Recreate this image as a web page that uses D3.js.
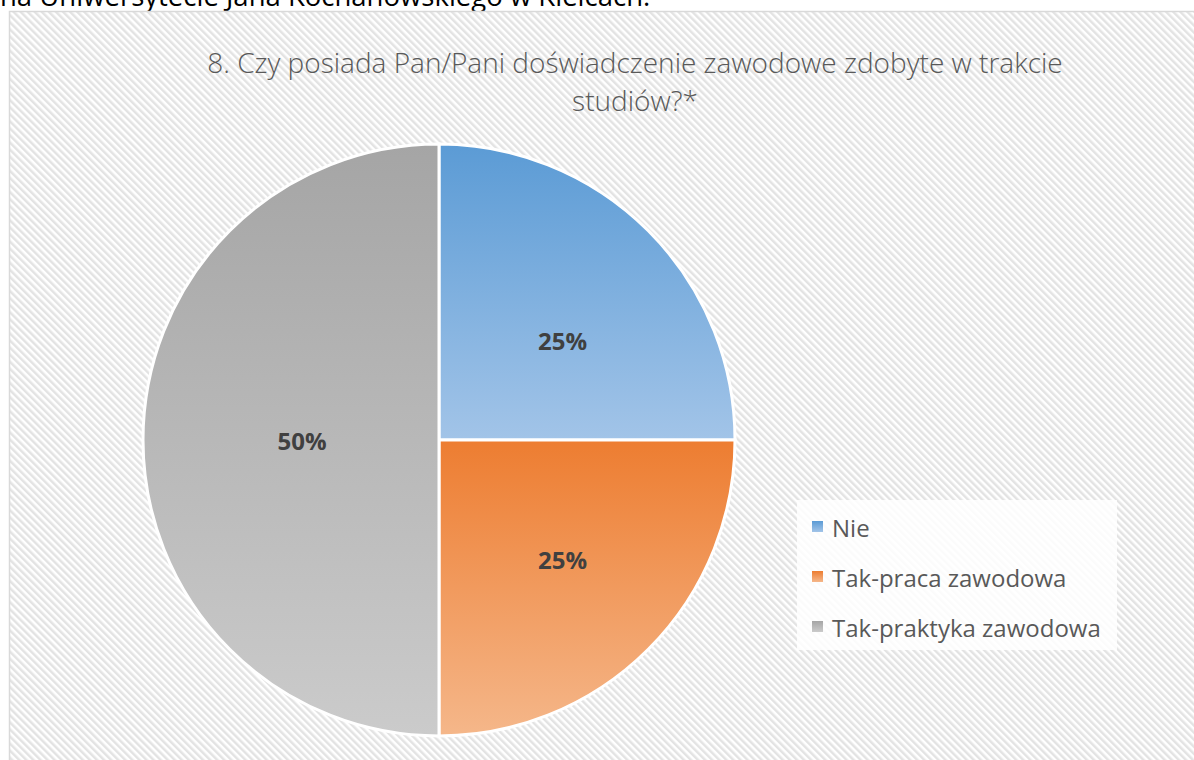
<!DOCTYPE html>
<html><head><meta charset="utf-8">
<script src="https://cdn.jsdelivr.net/npm/d3@7"></script>
<style>body{margin:0;background:#fff;overflow:hidden}svg{display:block}</style>
</head><body>
<script>
const categories = ["Nie", "Tak-praca zawodowa", "Tak-praktyka zawodowa"];
const values = [25, 25, 50];
const labels = ["25%", "25%", "50%"];
const titleLines = ["8. Czy posiada Pan/Pani doświadczenie zawodowe zdobyte w trakcie", "studiów?*"];
const colorsTop = ["#5b9bd5", "#ed7d31", "#a5a5a5"];
const colorsBottom = ["#a2c4e8", "#f5b78a", "#cbcbcb"];

const W = 1194, H = 760;
const svg = d3.select("body").append("svg").attr("width", W).attr("height", H);
const defs = svg.append("defs");

const pat = defs.append("pattern").attr("id", "stripes").attr("patternUnits", "userSpaceOnUse")
  .attr("width", 5).attr("height", 5).attr("patternTransform", "rotate(-45)");
pat.append("rect").attr("width", 5).attr("height", 5).attr("fill", "#ffffff");
pat.append("rect").attr("width", 2.5).attr("height", 5).attr("fill", "#e3e3e3");

categories.forEach((c, i) => {
  const g = defs.append("linearGradient").attr("id", "grad" + i).attr("x1", 0).attr("y1", 0).attr("x2", 0).attr("y2", 1);
  g.append("stop").attr("offset", "0%").attr("stop-color", colorsTop[i]);
  g.append("stop").attr("offset", "100%").attr("stop-color", colorsBottom[i]);
});

// text of the page, cut off above the chart
svg.append("text").attr("x", 0).attr("y", 6).attr("font-family", "Open Sans, sans-serif")
  .attr("font-size", 27.5).attr("fill", "#000").text("na Uniwersytecie Jana Kochanowskiego w Kielcach.");

// chart area
svg.append("rect").attr("x", 9.5).attr("y", 11.5).attr("width", W).attr("height", H)
  .attr("fill", "url(#stripes)").attr("stroke", "#d9d9d9").attr("stroke-width", 1.5);

// title
const title = svg.append("text").attr("text-anchor", "middle").attr("font-family", "Open Sans, sans-serif")
  .attr("font-weight", 300).attr("font-size", 28).attr("fill", "#595959");
titleLines.forEach((t, i) => title.append("tspan").attr("x", 635).attr("y", 73 + i * 38).text(t));

// pie
const cx = 439, cy = 440, r = 296;
const pie = d3.pie().sort(null).value(d => d)(values);
const arc = d3.arc().innerRadius(0).outerRadius(r);
const labelArc = d3.arc().innerRadius(r * 0.5).outerRadius(r * 0.5);
const g = svg.append("g").attr("transform", `translate(${cx},${cy})`);
g.selectAll("path").data(pie).join("path").attr("d", arc)
  .attr("fill", (d, i) => `url(#grad${i})`).attr("stroke", "#fff").attr("stroke-width", 3);
g.selectAll("text").data(pie).join("text")
  .attr("transform", d => {
    const [x, y] = labelArc.centroid(d);
    const dx = x > 0 ? 19 : 11;
    const dy = y > 5 ? 15 : (y < -5 ? 5 : 0);
    return `translate(${x + dx},${y + dy})`;
  })
  .attr("text-anchor", "middle").attr("dominant-baseline", "central")
  .attr("font-family", "Open Sans, sans-serif").attr("font-weight", 700).attr("font-size", 24)
  .attr("fill", "#404040").text((d, i) => labels[i]);

// legend
const lg = svg.append("g").attr("transform", "translate(797,500)");
lg.append("rect").attr("width", 320).attr("height", 150).attr("fill", "#fff").attr("opacity", 0.85);
const items = lg.selectAll("g").data(categories).join("g").attr("transform", (d, i) => `translate(0,${27 + i * 50})`);
items.append("rect").attr("x", 15).attr("y", -6).attr("width", 11).attr("height", 11).attr("fill", (d, i) => `url(#grad${i})`);
items.append("text").attr("x", 35).attr("y", 0).attr("dominant-baseline", "central")
  .attr("font-family", "Open Sans, sans-serif").attr("font-size", 24).attr("fill", "#595959").text(d => d);
</script>
</body></html>
